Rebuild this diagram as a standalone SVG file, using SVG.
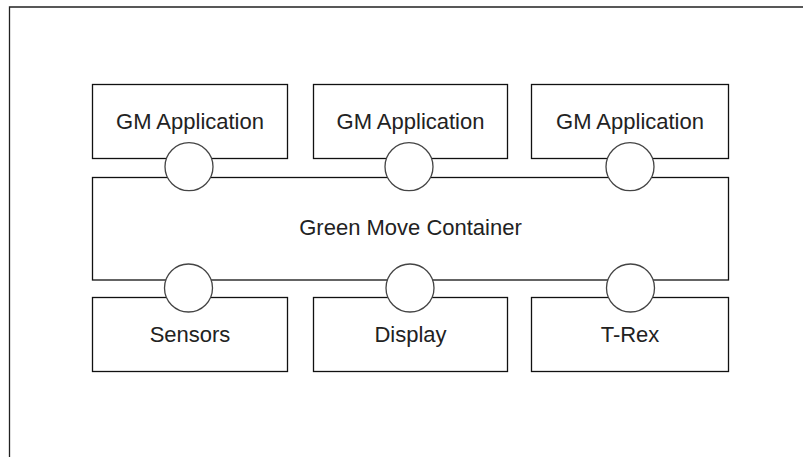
<svg xmlns="http://www.w3.org/2000/svg" width="803" height="457" viewBox="0 0 803 457">
<style>
.box{fill:#fff;stroke:#111;stroke-width:1.3}
.port{fill:#fff;stroke:#444;stroke-width:1.3}
.lbl{font-family:"Liberation Sans",Arial,sans-serif;font-size:22px;fill:#222;text-anchor:middle}
.frame{fill:none;stroke:#222;stroke-width:1.3}
</style>
<rect width="803" height="457" fill="#fff"/>
<path class="frame" d="M9.5 457 V7 H803"/>
<g id="container"><rect class="box" x="92.5" y="177.5" width="636" height="102.5"/><text class="lbl" x="410.5" y="235">Green Move Container</text></g>
<g id="app1"><rect class="box" x="92.5" y="84.5" width="195" height="74"/><text class="lbl" x="190" y="129">GM Application</text></g>
<g id="app2"><rect class="box" x="313.5" y="84.5" width="194" height="74"/><text class="lbl" x="410.5" y="129">GM Application</text></g>
<g id="app3"><rect class="box" x="531.5" y="84.5" width="197" height="74"/><text class="lbl" x="630" y="129">GM Application</text></g>
<g id="sensors"><rect class="box" x="92.5" y="297.5" width="195" height="74"/><text class="lbl" x="190" y="341.5">Sensors</text></g>
<g id="display"><rect class="box" x="313.5" y="297.5" width="194" height="74"/><text class="lbl" x="410.5" y="341.5">Display</text></g>
<g id="trex"><rect class="box" x="531.5" y="297.5" width="197" height="74"/><text class="lbl" x="630" y="341.5">T-Rex</text></g>
<g id="connectors">
<circle class="port" cx="189" cy="166.7" r="24"/>
<circle class="port" cx="409" cy="166.7" r="24"/>
<circle class="port" cx="630" cy="166.7" r="24"/>
<circle class="port" cx="188.5" cy="288" r="24"/>
<circle class="port" cx="410" cy="288" r="24"/>
<circle class="port" cx="630.5" cy="288" r="24"/>
</g>
</svg>
